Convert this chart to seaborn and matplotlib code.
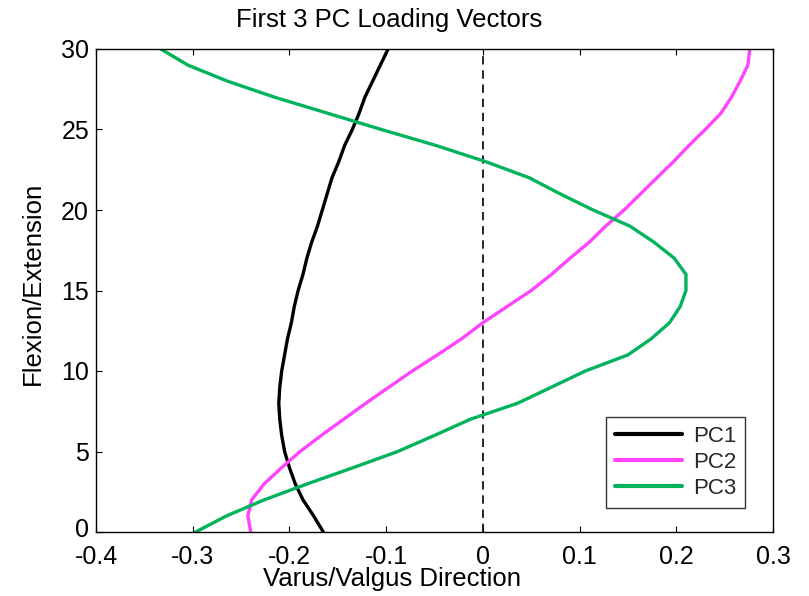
import numpy as np
import pandas as pd
import matplotlib
matplotlib.use("Agg")
import matplotlib.pyplot as plt
import matplotlib.transforms as mtransforms
import seaborn as sns

# flexion/extension angle (y axis)
flexion = list(range(0, 31))

# loading vectors (varus/valgus direction)
pc1 = [-0.165, -0.175, -0.186, -0.194, -0.200, -0.205, -0.208, -0.210, -0.211, -0.210,
       -0.208, -0.205, -0.202, -0.198, -0.195, -0.191, -0.186, -0.182, -0.177, -0.171,
       -0.166, -0.161, -0.156, -0.149, -0.143, -0.135, -0.128, -0.122, -0.114, -0.106,
       -0.098]
pc2 = [-0.240, -0.243, -0.239, -0.226, -0.208, -0.189, -0.167, -0.144, -0.121, -0.097,
       -0.073, -0.047, -0.022, 0.000, 0.025, 0.050, 0.071, 0.090, 0.110, 0.127,
       0.146, 0.163, 0.180, 0.197, 0.213, 0.230, 0.246, 0.257, 0.266, 0.274,
       0.276]
pc3 = [-0.297, -0.265, -0.226, -0.181, -0.134, -0.088, -0.050, -0.013, 0.036, 0.071,
       0.106, 0.150, 0.174, 0.193, 0.204, 0.210, 0.210, 0.198, 0.177, 0.152,
       0.114, 0.080, 0.048, 0.003, -0.048, -0.105, -0.160, -0.215, -0.264, -0.305,
       -0.333]

labels = ["PC1", "PC2", "PC3"]
colors = ["#000000", "#ff44ff", "#00b35c"]

df = pd.concat([
    pd.DataFrame({"x": v, "y": flexion, "pc": lab})
    for v, lab in zip([pc1, pc2, pc3], labels)
], ignore_index=True)

sns.set_theme(style="white")
plt.rcParams["font.family"] = ["Liberation Sans", "DejaVu Sans"]
plt.rcParams["xtick.direction"] = "in"
plt.rcParams["ytick.direction"] = "in"

fig = plt.figure(figsize=(8.09, 5.96), dpi=100)
ax = fig.add_axes([96 / 809, 1 - 532 / 596, (773 - 96) / 809, (532 - 49) / 596])

sns.lineplot(data=df, x="x", y="y", hue="pc", palette=colors, sort=False,
             estimator=None, orient="y", linewidth=2.4, ax=ax)
ax.axvline(0, color="black", linestyle=(0, (5, 3.5)), linewidth=1.2, zorder=1)

ax.set_xlim(-0.4, 0.3)
ax.set_ylim(0, 30)
ax.set_xticks(np.arange(-0.4, 0.31, 0.1))
ax.set_xticklabels(["-0.4", "-0.3", "-0.2", "-0.1", "0", "0.1", "0.2", "0.3"])
ax.set_yticks(range(0, 31, 5))
ax.tick_params(axis="both", labelsize=18, length=4, width=0.8, color="black",
               labelcolor="black", top=True, right=False, left=True, bottom=True)
ax.tick_params(axis="x", pad=9)
ax.tick_params(axis="y", pad=5)
for s in ax.spines.values():
    s.set_color("black")
    s.set_linewidth(1.0)

# nudge the "0" y label up a little so it clears "-0.4"
lab0 = ax.get_yticklabels()[0]
lab0.set_transform(lab0.get_transform() +
                   mtransforms.ScaledTranslation(0, 3 / 72, fig.dpi_scale_trans))

# title and x label sit left of the axes centre in the original
ax.set_title("First 3 PC Loading Vectors", fontsize=18.5, pad=16, color="black", x=0.433)
ax.set_xlabel("Varus/Valgus Direction", fontsize=18.5, labelpad=-1, color="black", x=0.437)
ax.set_ylabel("Flexion/Extension", fontsize=18.5, labelpad=12, color="black", y=0.515)

leg = ax.legend(loc="lower right", bbox_to_anchor=(0.959, 0.05), fontsize=16,
                handlelength=3.0, frameon=True, fancybox=False, borderpad=0.4,
                labelspacing=0.22, handletextpad=0.5, borderaxespad=0)
leg.get_frame().set_edgecolor("black")
leg.get_frame().set_linewidth(1.0)
for line in leg.get_lines():
    line.set_linewidth(3)

fig.savefig("out.png", dpi=100, facecolor="white")
